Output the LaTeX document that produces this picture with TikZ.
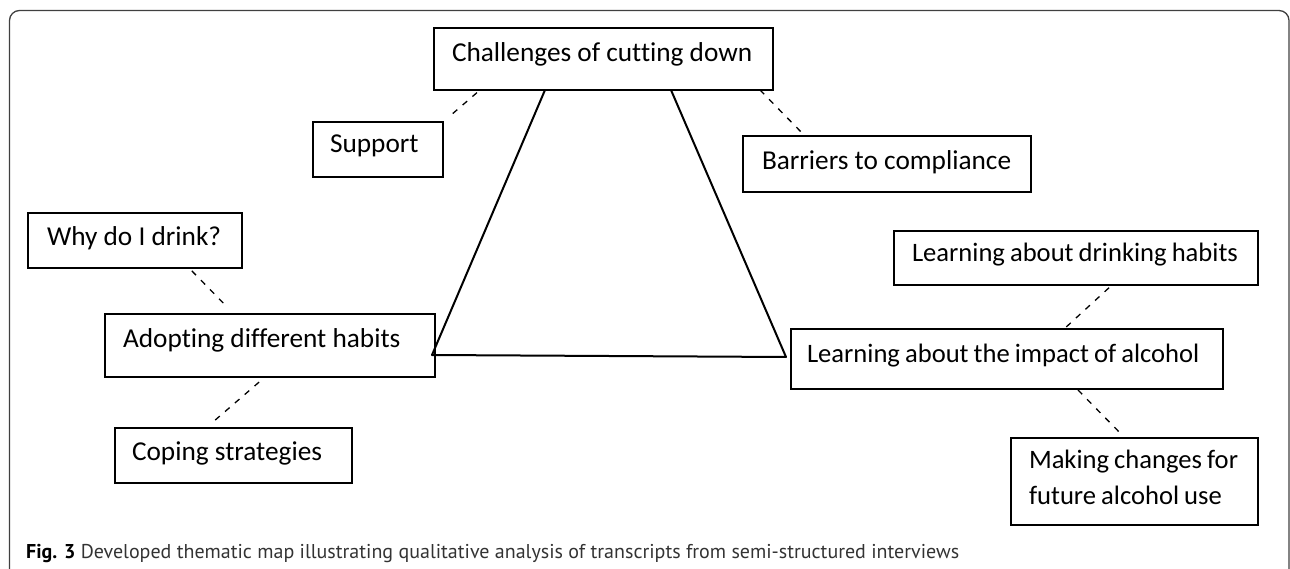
\documentclass[tikz,border=0pt]{standalone}
\usepackage{fontspec}
\setmainfont{Carlito}[Ligatures=NoCommon]
\newfontfamily\capfont{PT Sans}
\usetikzlibrary{calc}
\begin{document}
\begin{tikzpicture}[x=1pt,y=-1pt,
  box/.style={draw=black, line width=2pt, rectangle, anchor=north west,
    inner xsep=0pt, inner ysep=0pt, outer sep=0pt, align=left,
    font=\fontsize{27.3}{36}\selectfont,
    execute at begin node={\spaceskip=0.226em\relax\xspaceskip=0.226em\relax}},
  smallbox/.style={box, font=\fontsize{26.6}{36}\selectfont,
    execute at begin node={\spaceskip=0.19em\relax\xspaceskip=0.19em\relax}},
  tri/.style={line width=2pt, line join=round},
  dashlink/.style={line width=1.3pt, dash pattern=on 6pt off 7pt},
  frame/.style={draw=black!75, line width=1.3pt, rounded corners=10pt},
  captext/.style={anchor=base west, inner sep=0pt, text=black!80,
    font=\capfont\fontsize{20}{24}\selectfont}
]
\useasboundingbox (0,0) rectangle (1290,569);
\begin{scope}
  \clip (0,0) rectangle (1290,569);
  \draw[frame] (9.5,10.5) rectangle (1289,580);
\end{scope}

\node[box, text width=339pt, text height=34pt, text depth=28pt] (chal) at (434,28) {\hspace*{18pt}\mbox{Challenges of cutting down}};
\node[box, text width=130pt, text height=31pt, text depth=24pt] (support) at (313,122) {\hspace*{17pt}\mbox{Support}};
\node[box, text width=288pt, text height=34pt, text depth=22pt] (barriers) at (743,136) {\hspace*{19pt}\mbox{Barriers to compliance}};
\node[box, text width=214pt, text height=33pt, text depth=22pt] (why) at (28,213) {\hspace*{19pt}\mbox{Why do I drink?}};
\node[box, text width=330pt, text height=33pt, text depth=30pt] (adopt) at (105,314) {\hspace*{18pt}\mbox{Adopting different habits}};
\node[box, text width=237pt, text height=32pt, text depth=23pt] (coping) at (115,428) {\hspace*{17pt}\mbox{Coping strategies}};
\node[smallbox, text width=364pt, text height=31pt, text depth=23pt] (drink) at (894,231) {\hspace*{18pt}\mbox{Learning about drinking habits}};
\node[smallbox, text width=432pt, text height=33pt, text depth=27pt] (impact) at (791,329) {\hspace*{16pt}\mbox{Learning about the impact of alcohol}};
\node[smallbox, text width=247pt, text height=30pt, text depth=57pt] (making) at (1011,438) {\hspace*{18pt}\mbox{Making changes for}\\\hspace*{18pt}\mbox{future alcohol use}};

\draw[tri] ($(chal.south west)+(111,0)$) -- ($(adopt.east)+(-3,9.5)$) -- ($(impact.west)+(-5,-2)$) -- ($(chal.south west)+(237,0)$);

\draw[dashlink, shorten <=4pt, shorten >=8.6pt] ($(chal.south west)+(46,0)$) -- (support.north east);
\draw[dashlink, shorten >=1pt] ($(chal.south east)+(-13,0)$) -- ($(barriers.north west)+(62,0)$);
\draw[dashlink, shorten <=4pt, shorten >=13pt] ($(why.south)+(54,0)$) -- ($(adopt.north)+(-36,0)$);
\draw[dashlink, shorten <=7.8pt, shorten >=7.6pt] ($(adopt.south)+(-5,0)$) -- ($(coping.north)+(-27.5,0)$);
\draw[dashlink, shorten <=4pt, shorten >=1pt] ($(drink.south)+(36,0)$) -- ($(impact.north)+(57,0)$);
\draw[dashlink, shorten <=1.4pt, shorten >=7pt] ($(impact.south)+(70,0)$) -- ($(making.north)+(-9.5,0)$);

\node[captext] (cap) at (26,558) {\textbf{\color{black}Fig. 3} Developed thematic map illustrating qualitative analysis of transcripts from semi-structured interviews};
\end{tikzpicture}
\end{document}
